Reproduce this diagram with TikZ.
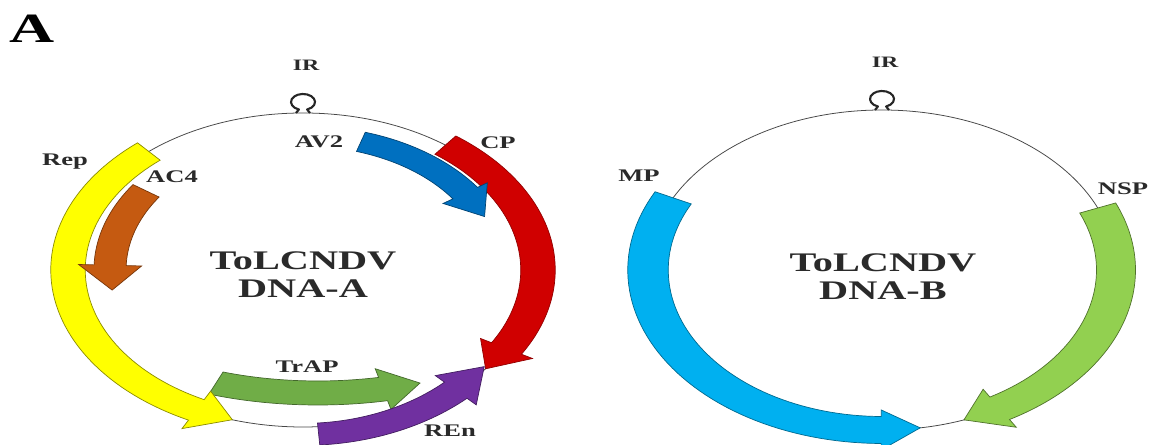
\documentclass[tikz,border=0pt]{standalone}
\usepackage{graphicx}
\usepackage{fontspec}
\setmainfont{Liberation Serif}
\usetikzlibrary{calc}

\definecolor{repyellow}{HTML}{FFFF00}
\definecolor{acorange}{HTML}{C55A11}
\definecolor{avblue}{HTML}{0070C0}
\definecolor{cpred}{HTML}{D00000}
\definecolor{trgreen}{HTML}{70AD47}
\definecolor{renpurple}{HTML}{7030A0}
\definecolor{mpblue}{HTML}{00B0F0}
\definecolor{nspgreen}{HTML}{92D050}
\definecolor{inkgray}{HTML}{2A2A2A}

% horizontally widened text
\newcommand{\wide}[1]{\scalebox{1.5}[1]{#1}}

% current track: centre x, centre y, x radius, y radius (pixel units)
\newcommand{\settrack}[4]{\def\gcx{#1}\def\gcy{#2}\def\grx{#3}\def\gry{#4}}

% gene arrow along the current track:
% #1 start angle, #2 head base angle, #3 tip angle, #4 band half width, #5 head half width, #6 style
\newcommand{\genearrow}[6]{%
  \filldraw[#6]
    plot[domain=#1:#2, samples=60, variable=\t]
      ({\gcx+(\grx+1.5*#4)*cos(\t)},{\gcy+(\gry+#4)*sin(\t)})
    -- ({\gcx+(\grx+1.5*#5)*cos(#2)},{\gcy+(\gry+#5)*sin(#2)})
    -- ({\gcx+\grx*cos(#3)},{\gcy+\gry*sin(#3)})
    -- ({\gcx+(\grx-1.5*#5)*cos(#2)},{\gcy+(\gry-#5)*sin(#2)})
    -- plot[domain=#2:#1, samples=60, variable=\t]
      ({\gcx+(\grx-1.5*#4)*cos(\t)},{\gcy+(\gry-#4)*sin(\t)})
    -- cycle;}

% stem-loop symbol sitting on the ring at (#1,#2)
\newcommand{\irloop}[2]{%
  \draw[loopline] (#1-7,#2) -- (#1-4.1,#2+3.5)
    arc[start angle=-110, end angle=-430, x radius=12, y radius=8]
    -- (#1+7,#2);}

\begin{document}
\begin{tikzpicture}[x=0.025cm, y=0.025cm,
  ring/.style={draw=black!72, line width=0.55pt},
  loopline/.style={draw=black!85, line width=1.5pt, line join=round},
  genebox/.style={line width=0.5pt, line join=miter},
  rep/.style={genebox, fill=repyellow, draw=repyellow!55!black},
  acfour/.style={genebox, fill=acorange, draw=acorange!60!black},
  avtwo/.style={genebox, fill=avblue, draw=avblue!60!black},
  cp/.style={genebox, fill=cpred, draw=cpred!70!black},
  trap/.style={genebox, fill=trgreen, draw=trgreen!60!black},
  ren/.style={genebox, fill=renpurple, draw=renpurple!60!black},
  mp/.style={genebox, fill=mpblue, draw=mpblue!60!black},
  nsp/.style={genebox, fill=nspgreen, draw=nspgreen!55!black},
  lab/.style={text=inkgray, inner sep=0pt, text height=8.3pt, text depth=0pt,
    font=\fontsize{12.6}{13}\selectfont\bfseries},
  irlab/.style={lab, text height=7.5pt, font=\fontsize{11.3}{12}\selectfont\bfseries},
  title/.style={text=inkgray, inner sep=0pt, align=center,
    font=\fontsize{19.1}{19.6}\selectfont\bfseries},
  panel/.style={text=black, inner sep=0pt, text height=19.6pt, text depth=0pt,
    font=\fontsize{29.6}{30}\selectfont\bfseries}]

\fill[white] (0,0) rectangle (1156,445);
\useasboundingbox (0,0) rectangle (1156,445);

\node[panel] (panelA) at (32,416) {\wide{A}};

% ---------------- DNA-A ----------------
\draw[ring] (303,175) ellipse [x radius=235, y radius=157];
\irloop{303}{332}

\settrack{318}{176}{260}{124}
\genearrow{246.9}{284.5}{293.1}{12}{21}{trap}

\settrack{303}{175}{235}{157}
\genearrow{131}{243}{252.5}{11.5}{21}{rep}

\settrack{303}{175}{193}{136}
\genearrow{144.4}{178}{188.5}{10.7}{21}{acfour}

\settrack{303}{175}{224}{164.4}
\genearrow{-86}{-47}{-36}{11}{20}{ren}

\settrack{303}{175}{235}{157}
\genearrow{52.7}{-30}{-39}{11.5}{20}{cp}

\settrack{303}{175}{198}{134}
\genearrow{73}{35}{23.5}{10}{18}{avtwo}

\node[irlab] (irA) at (306,380) {\wide{IR}};
\node[lab] (avtwoL) at (319,303) {\wide{AV2}};
\node[lab] (cpL) at (498,302) {\wide{CP}};
\node[lab] (repL) at (65,285) {\wide{Rep}};
\node[lab] (acfourL) at (172,268) {\wide{AC4}};
\node[lab] (trapL) at (307,78) {\wide{TrAP}};
\node[lab] (renL) at (450,14) {\wide{REn}};
\node[title] (nameA) at (303,170.5) {\wide{ToLCNDV}\\\wide{DNA-A}};

% ---------------- DNA-B ----------------
\draw[ring] (882,175) ellipse [x radius=234, y radius=160];
\irloop{882}{335}

\settrack{882}{175}{234}{160}
\genearrow{153.2}{269.8}{279.4}{13.5}{20}{mp}
\genearrow{22.8}{-59.8}{-69.5}{13}{22}{nsp}

\node[irlab] (irB) at (885,383) {\wide{IR}};
\node[lab] (mpL) at (639,269) {\wide{MP}};
\node[lab] (nspL) at (1123,256) {\wide{NSP}};
\node[title] (nameB) at (883,168.5) {\wide{ToLCNDV}\\\wide{DNA-B}};

\end{tikzpicture}
\end{document}
